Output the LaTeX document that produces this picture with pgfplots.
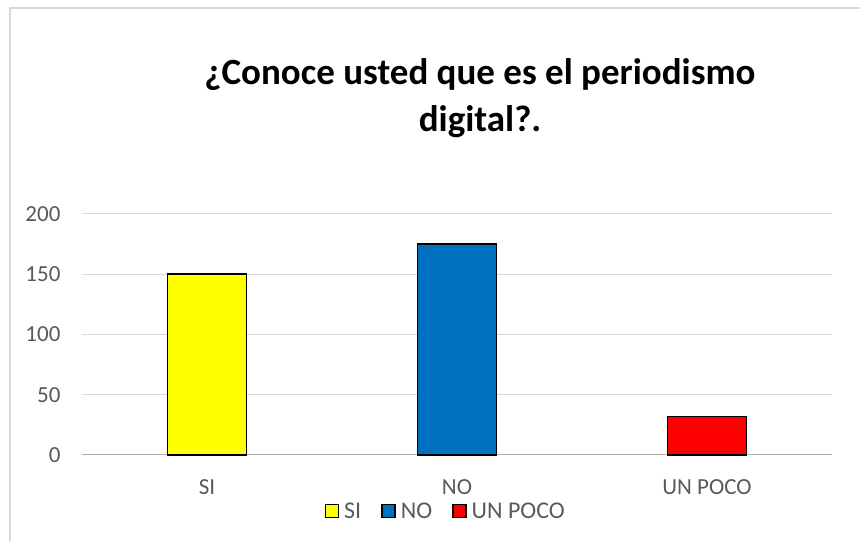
\documentclass[border=0pt]{standalone}
\usepackage{pgfplots}
\pgfplotsset{compat=1.18}
\usepackage{fontspec}
\setmainfont{Carlito}
\definecolor{gridc}{HTML}{D9D9D9}
\definecolor{txtc}{HTML}{595959}
\definecolor{siy}{HTML}{FFFF00}
\definecolor{nob}{HTML}{0070C0}
\definecolor{upr}{HTML}{FF0000}
\begin{document}
\begin{tikzpicture}[x=1pt,y=1pt]
\path[use as bounding box] (0,0) rectangle (860,541);
\draw[gridc, line width=1.5pt] (10,0) -- (10,533) -- (860,533);
\node[align=center, font=\fontsize{37}{47}\selectfont\bfseries, text=black] at (480,443) {¿Conoce usted que es el periodismo\\digital?.};
\begin{axis}[
  at={(82pt,86pt)}, anchor=south west,
  scale only axis, width=750pt, height=241pt,
  xmin=-0.5, xmax=2.5, ymin=0, ymax=200,
  ytick={0,50,...,200},
  xtick={0,1,2}, xticklabels={SI,NO,UN POCO},
  ymajorgrids, grid style={gridc, line width=1pt},
  axis x line*=bottom, axis y line*=left,
  y axis line style={draw=none},
  x axis line style={draw=gridc!80!black, line width=1pt},
  major tick length=0pt,
  tick label style={font=\fontsize{23}{27}\selectfont, text=txtc},
  /pgf/number format/assume math mode=true,
  yticklabel style={xshift=-18pt},
  xticklabel style={yshift=-21pt},
  ybar=0pt, bar width=79pt, bar shift=0pt,
  legend style={at={(0.485,-0.18)}, anchor=north, draw=none, fill=none,
    font=\fontsize{24}{28}\selectfont, text=txtc, legend columns=3,
    /tikz/every odd column/.append style={column sep=3pt},
    /tikz/every even column/.append style={column sep=18pt}},
  legend image code/.code={\draw[#1, draw=black, line width=1.5pt] (0pt,-6.5pt) rectangle (13pt,6.5pt);},
  clip=false
]
\addplot[fill=siy, draw=black, line width=1.5pt] coordinates {(0,150)};
\addplot[fill=nob, draw=black, line width=1.5pt] coordinates {(1,175)};
\addplot[fill=upr, draw=black, line width=1.5pt] coordinates {(2,32)};
\legend{SI,NO,UN POCO}
\end{axis}
\end{tikzpicture}
\end{document}
